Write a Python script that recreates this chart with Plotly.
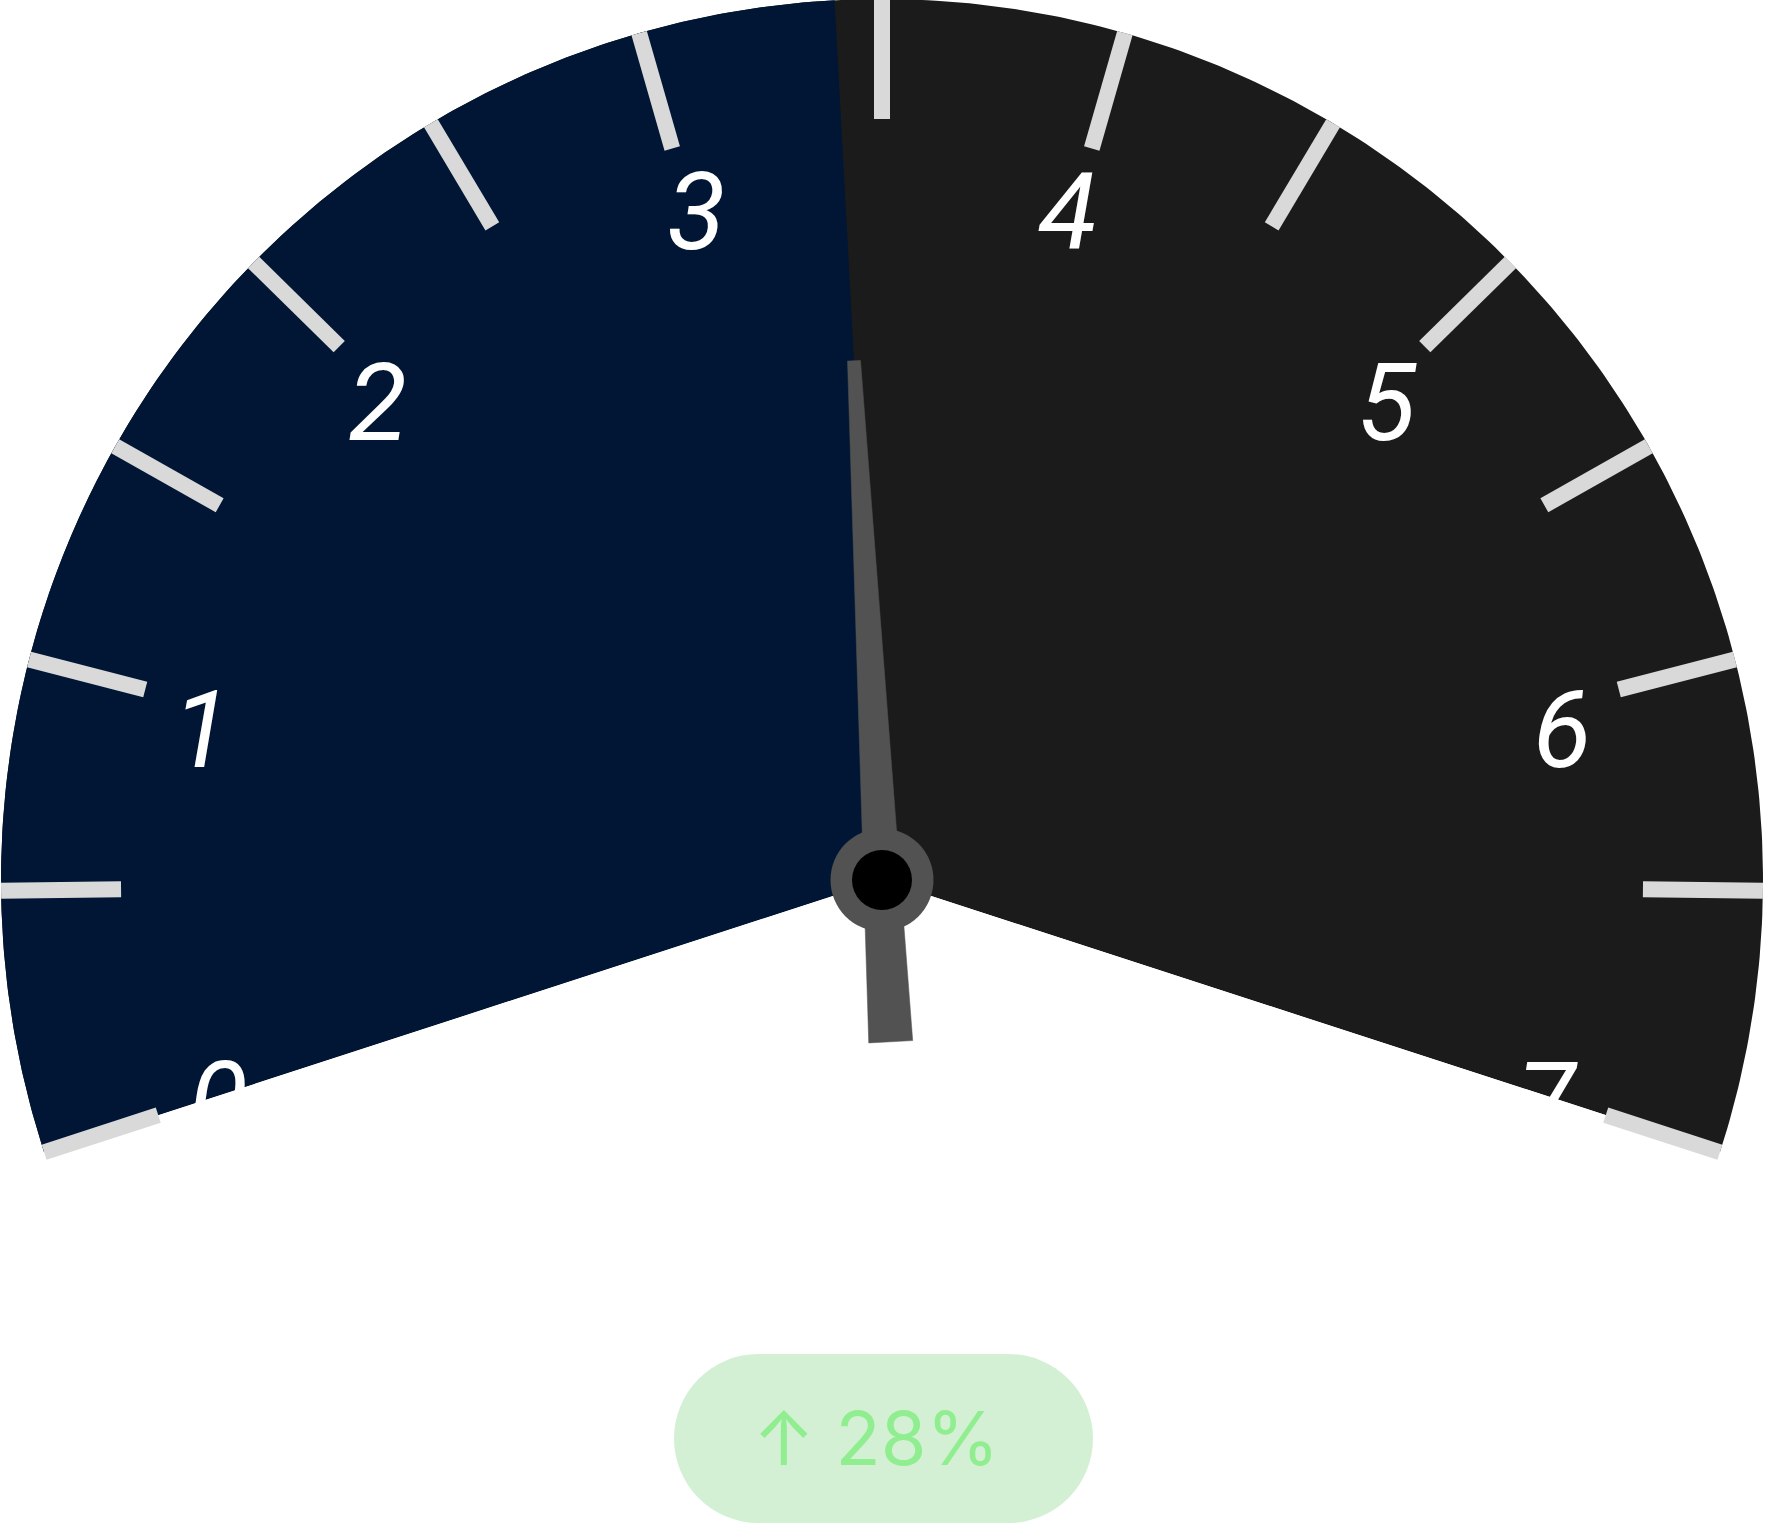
import numpy as np
import plotly.graph_objects as go

# ---------------- data ----------------
gauge_min = 0
gauge_max = 7
gauge_value = 3.4
label_values = [0, 1, 2, 3, 4, 5, 6, 7]
label_texts = ["0", "1", "2", "3", "4", "5", "6", "7"]
tick_angles = [198, 180.7, 165.5, 150.5, 135.5, 120.8, 106, 90,
               74, 59.2, 44.5, 29.5, 14.5, -0.7, -18]
change_pct = 28

# ---------------- geometry / style ----------------
START_ANGLE = 198.0
END_ANGLE = -18.0
W, H = 1768, 1524
R_PX = 881.0                  # gauge radius in px (1 data unit)
CX, CY = 882, 880             # gauge centre in figure px

BLUE = "#011634"
DARK = "#1b1b1b"
TICK = "#d9d9d9"
NEEDLE = "#525252"


def v2a(v):
    return START_ANGLE - (v - gauge_min) / (gauge_max - gauge_min) * (START_ANGLE - END_ANGLE)


def pol(r, a_deg):
    a = np.deg2rad(np.asarray(a_deg, dtype=float))
    return r * np.cos(a), r * np.sin(a)


val_angle = v2a(gauge_value)
fig = go.Figure()


def sector(a0, a1, color):
    angs = np.linspace(a0, a1, 400)
    x, y = pol(1.0, angs)
    xs = np.concatenate([[0.0], x, [0.0]])
    ys = np.concatenate([[0.0], y, [0.0]])
    fig.add_trace(go.Scatter(x=xs, y=ys, mode="lines", fill="toself",
                             fillcolor=color, line=dict(width=0, color=color),
                             hoverinfo="skip", showlegend=False))


# full dark gauge, then the value part in blue
sector(START_ANGLE, END_ANGLE, DARK)
sector(START_ANGLE, val_angle, BLUE)

# labels
LABEL_R = 0.792
TEXT_DY = 15 / R_PX
lx, ly = pol(LABEL_R, [v2a(v) for v in label_values])
fig.add_trace(go.Scatter(
    x=lx, y=ly - TEXT_DY, mode="text", text=label_texts, textposition="middle center",
    textfont=dict(family="Roboto", size=108, color="white", style="italic"),
    hoverinfo="skip", showlegend=False, cliponaxis=False,
))

# white wedge below the gauge edges (clips the 0 and 7 labels like the reference)
mx, my = pol(1.05, [START_ANGLE, END_ANGLE])
fig.add_trace(go.Scatter(
    x=[0, mx[0], mx[1], 0], y=[0, my[0], my[1], 0], mode="lines", fill="toself",
    fillcolor="white", line=dict(width=0, color="white"),
    hoverinfo="skip", showlegend=False,
))

# ticks
r_in = 1 - 120 / R_PX
tx, ty = [], []
for a in tick_angles:
    x0, y0 = pol(r_in, a)
    x1, y1 = pol(1.0, a)
    tx += [float(x0), float(x1), None]
    ty += [float(y0), float(y1), None]
fig.add_trace(go.Scatter(
    x=tx, y=ty, mode="lines", line=dict(color=TICK, width=16),
    hoverinfo="skip", showlegend=False, cliponaxis=False,
))

# needle (tapered quadrilateral)
th = np.deg2rad(val_angle)
u = np.array([np.cos(th), np.sin(th)])
p = np.array([-np.sin(th), np.cos(th)])
L_tip, L_tail = 520 / R_PX, -162 / R_PX
hw_tip, hw_tail = 6.5 / R_PX, 22 / R_PX
pts = np.array([L_tip * u + hw_tip * p, L_tip * u - hw_tip * p,
                L_tail * u - hw_tail * p, L_tail * u + hw_tail * p,
                L_tip * u + hw_tip * p])
fig.add_trace(go.Scatter(
    x=pts[:, 0], y=pts[:, 1], mode="lines", fill="toself",
    fillcolor=NEEDLE, line=dict(color=NEEDLE, width=0.5),
    hoverinfo="skip", showlegend=False,
))

# pivot
fig.add_trace(go.Scatter(
    x=[0, 0], y=[0, 0], mode="markers",
    marker=dict(size=[103, 60], color=[NEEDLE, "#000000"], opacity=1,
                line=dict(width=0)),
    hoverinfo="skip", showlegend=False, cliponaxis=False,
))

# axes: 1 data unit == R_PX pixels, centre at (CX, CY)
fig.update_layout(
    width=W, height=H,
    margin=dict(l=0, r=0, t=0, b=0, pad=0),
    paper_bgcolor="white", plot_bgcolor="white",
    showlegend=False,
    xaxis=dict(range=[-CX / R_PX, (W - CX) / R_PX], visible=False, fixedrange=True),
    yaxis=dict(range=[-(H - CY) / R_PX, CY / R_PX], visible=False, fixedrange=True),
)

# badge
bx0, bx1, by0, by1 = 674, 1093, 1354, 1523
rad = (by1 - by0) / 2
badge_col = "rgb(212,240,212)"
fig.add_shape(type="rect", xref="paper", yref="paper",
              x0=(bx0 + rad) / W, x1=(bx1 - rad) / W,
              y0=1 - by1 / H, y1=1 - by0 / H,
              fillcolor=badge_col, line=dict(width=0), layer="below")
for c in (bx0 + rad, bx1 - rad):
    fig.add_shape(type="circle", xref="paper", yref="paper",
                  x0=(c - rad) / W, x1=(c + rad) / W,
                  y0=1 - by1 / H, y1=1 - by0 / H,
                  fillcolor=badge_col, line=dict(width=0), layer="below")
fig.add_annotation(
    x=876 / W, y=1 - 1438 / H, xref="paper", yref="paper",
    xanchor="center", yanchor="middle", showarrow=False,
    text=f"↑ {change_pct}%",
    font=dict(family="Inter", size=74, color="#90ee90"),
)

fig.write_html(
    "out.html",
    config={"displayModeBar": False},
    post_script="document.body.style.margin='0';document.body.style.overflow='hidden';",
)
